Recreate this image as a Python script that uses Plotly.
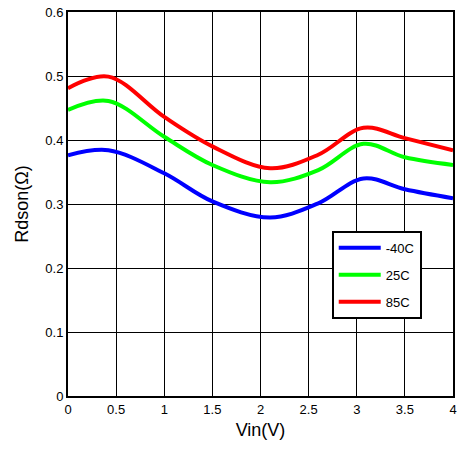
import plotly.graph_objects as go

vin = [0, 0.42, 1.0, 1.5, 2.1, 2.6, 3.07, 3.5, 4.0]
r_m40 = [0.376, 0.384, 0.348, 0.304, 0.279, 0.301, 0.340, 0.323, 0.309]
r_25 = [0.447, 0.461, 0.405, 0.361, 0.334, 0.353, 0.394, 0.373, 0.361]
r_85 = [0.481, 0.499, 0.436, 0.390, 0.356, 0.377, 0.419, 0.403, 0.384]

names = ["-40C", "25C", "85C"]
colors = ["#0000ff", "#00ff00", "#ff0000"]
series = [r_m40, r_25, r_85]

x_ticks = [0, 0.5, 1, 1.5, 2, 2.5, 3, 3.5, 4]
x_ticklabels = ["0", "0.5", "1", "1.5", "2", "2.5", "3", "3.5", "4"]
y_ticks = [0, 0.1, 0.2, 0.3, 0.4, 0.5, 0.6]
y_ticklabels = ["0", "0.1", "0.2", "0.3", "0.4", "0.5", "0.6"]

fig = go.Figure()
for name, col, ys in zip(names, colors, series):
    fig.add_trace(go.Scatter(
        x=vin, y=ys, mode="lines", name=name, legendgroup=name,
        line=dict(color=col, width=4, shape="spline", smoothing=1.0),
    ))

font_family = "Liberation Sans, Arial, sans-serif"
fig.update_layout(
    width=467, height=451,
    margin=dict(l=68, r=14, t=12, b=55, autoexpand=False),
    paper_bgcolor="white", plot_bgcolor="white",
    font=dict(family=font_family, color="black", size=13),
    showlegend=True,
    legend=dict(
        x=0.685, y=0.43, xanchor="left", yanchor="top",
        bgcolor="white", bordercolor="black", borderwidth=2,
        font=dict(size=13, family=font_family, color="black"),
        tracegroupgap=7, itemwidth=42,
    ),
    xaxis=dict(
        range=[0, 4], tickvals=x_ticks, ticktext=x_ticklabels,
        showgrid=True, gridcolor="black", gridwidth=1,
        showline=True, linecolor="black", linewidth=2, mirror=True,
        ticks="", zeroline=False, automargin=False,
        title=dict(text="Vin(V)", font=dict(size=18, family=font_family), standoff=8),
        tickfont=dict(size=13),
    ),
    yaxis=dict(
        range=[0, 0.6], tickvals=y_ticks, ticktext=y_ticklabels,
        showgrid=True, gridcolor="black", gridwidth=1,
        showline=True, linecolor="black", linewidth=2, mirror=True,
        ticks="", zeroline=False, automargin=False,
        title=dict(text="Rdson(Ω)", font=dict(size=18, family=font_family), standoff=12),
        tickfont=dict(size=13),
    ),
)

fig.write_html("out.html", config={"displayModeBar": False},
               post_script="document.body.style.margin='0';")
